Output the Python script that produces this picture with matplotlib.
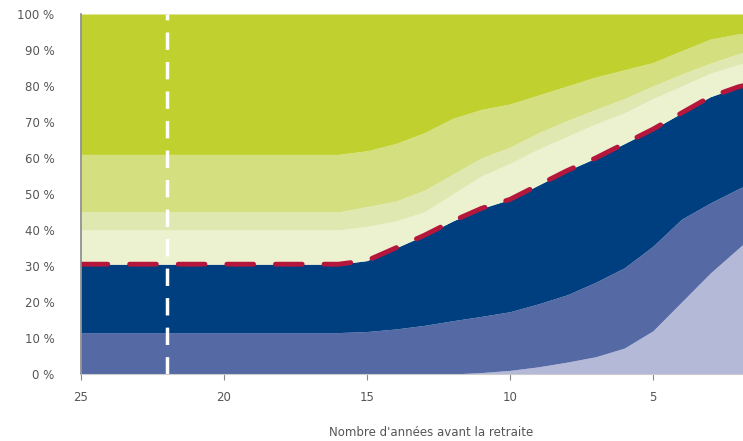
import matplotlib
matplotlib.use("Agg")
import matplotlib.pyplot as plt
import numpy as np

# years before retirement
years = [25, 24, 23, 22, 21, 20, 19, 18, 17, 16, 15, 14, 13, 12, 11, 10, 9, 8, 7, 6, 5, 4, 3, 2, 1]

# cumulative upper edge of each band (%), bottom to top
lav   = [0, 0, 0, 0, 0, 0, 0, 0, 0, 0, 0, 0, 0, 0, 0.4, 1, 2, 3.3, 4.8, 7.2, 12, 20, 28, 35, 42]
med   = [11.5, 11.5, 11.5, 11.5, 11.5, 11.5, 11.5, 11.5, 11.5, 11.5, 11.8, 12.5, 13.5, 14.8, 16, 17.3, 19.5, 22, 25.5, 29.5, 35.5, 43, 47.5, 51.5, 55]
dark  = [30.5, 30.5, 30.5, 30.5, 30.5, 30.5, 30.5, 30.5, 30.5, 30.5, 31.5, 35, 38.5, 42.5, 46, 48.5, 52.5, 56.5, 60, 64, 68, 72.5, 77, 79.8, 81.5]
pale  = [40, 40, 40, 40, 40, 40, 40, 40, 40, 40, 41, 42.5, 45, 50, 55, 58.5, 62.5, 66, 69.5, 72.5, 76.5, 80, 83.5, 86, 88]
pale2 = [45, 45, 45, 45, 45, 45, 45, 45, 45, 45, 46.5, 48, 51, 55.5, 60, 63, 67, 70.4, 73.5, 76.5, 80, 83.3, 86.3, 89, 91]
light = [61, 61, 61, 61, 61, 61, 61, 61, 61, 61, 62, 64, 67, 71, 73.5, 75, 77.5, 80, 82.5, 84.5, 86.5, 89.8, 93, 94.5, 95]
top   = [100] * len(years)

edges = [np.zeros(len(years)), lav, med, dark, pale, pale2, light, top]
colors = ['#b3b9d7', '#5569a5', '#003f7f', '#ecf1cf', '#dfe8b0', '#d4df80', '#c0d12f']

fig = plt.figure(figsize=(7.43, 4.41), dpi=100)
ax = fig.add_axes([81/743, 1-374/441, 1-81/743, 360/441])

for lo, hi, c in zip(edges[:-1], edges[1:], colors):
    ax.fill_between(years, lo, hi, color=c, lw=0)

# red dashed line on the top of the dark blue band
ax.plot(years, dark, color='#b5173c', lw=3.5, dashes=(5.5, 4.5), solid_capstyle='round', dash_capstyle='round')
# white dashed vertical marker
ax.axvline(22, color='white', lw=2.5, dashes=(5, 3.5))

ax.set_xlim(25, 1.85)
ax.set_ylim(0, 100)
ax.set_xticks([25, 20, 15, 10, 5])
ax.set_yticks(range(0, 101, 10))
ax.set_yticklabels([f"{v} %" for v in range(0, 101, 10)])

for s in ['top', 'right']:
    ax.spines[s].set_visible(False)
ax.spines['left'].set_color('#888888')
ax.spines['bottom'].set_color('#cccccc')
ax.spines['left'].set_linewidth(1.2)
ax.tick_params(axis='y', length=0, pad=19, labelsize=8.5, labelcolor='#555555')
ax.tick_params(axis='x', length=4, color='#888888', pad=8, labelsize=8.5, labelcolor='#555555')

fig.text(431/743, 1-433/441, "Nombre d'années avant la retraite", ha='center', va='center',
         fontsize=8.5, color='#555555')

fig.savefig('out.png', dpi=100)
